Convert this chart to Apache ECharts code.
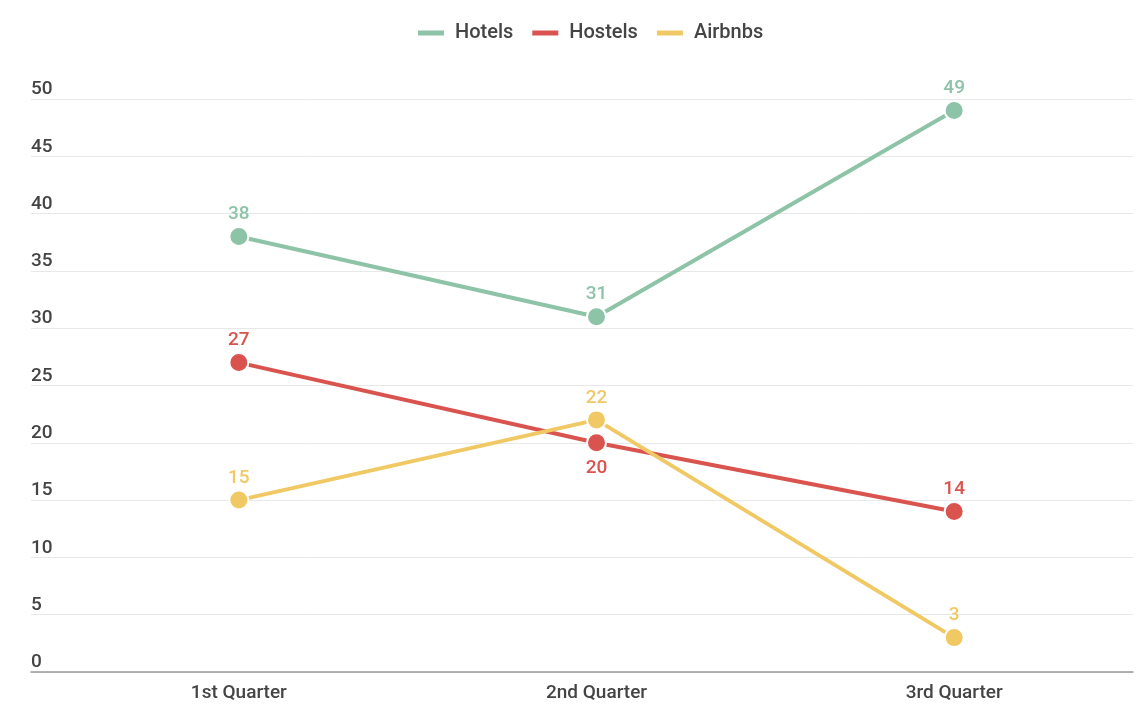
<!DOCTYPE html>
<html><head><meta charset="utf-8">
<script src="https://cdn.jsdelivr.net/npm/echarts@6/dist/echarts.min.js"></script>
<style>html,body{margin:0;padding:0;background:#fff}#c{width:1145px;height:715px}</style>
</head><body><div id="c"></div>
<script>
const categories = ['1st Quarter', '2nd Quarter', '3rd Quarter'];
const hotels = [38, 31, 49];
const hostels = [27, 20, 14];
const airbnbs = [15, 22, 3];
const yTicks = { min: 0, max: 50, interval: 5 };

const colors = { Hotels: '#8dc3a7', Hostels: '#d9534f', Airbnbs: '#f0c965' };
const chart = echarts.init(document.getElementById('c'), null, { renderer: 'canvas' });
const font = 'Roboto';
function mk(name, data) {
  return {
    name, type: 'line', data, xAxisIndex: 1, yAxisIndex: 1,
    symbol: 'circle', symbolSize: 19,
    lineStyle: { width: 4, color: colors[name] },
    itemStyle: { color: colors[name], borderColor: '#fff', borderWidth: 2 },
    label: {
      show: true, color: colors[name], fontFamily: font, fontSize: 19, fontWeight: 500,
      position: 'top', distance: 2,
      formatter: p => p.value
    },
    emphasis: { disabled: true }, animation: false, z: 3
  };
}
chart.setOption({
  animation: false,
  color: [colors.Hotels, colors.Hostels, colors.Airbnbs],
  textStyle: { fontFamily: font },
  legend: {
    top: 18, left: 413, itemWidth: 26, itemHeight: 5, itemGap: 19,
    icon: 'rect',
    itemStyle: { borderWidth: 0 },
    textStyle: { fontFamily: font, fontSize: 20, fontWeight: 500, color: '#444', padding: [0, 0, 0, 6] },
    data: ['Hotels', 'Hostels', 'Airbnbs']
  },
  grid: [
    { left: 31, right: 12, top: 99, bottom: 43 },
    { left: 60, right: 12, top: 99, bottom: 43 }
  ],
  xAxis: [
    { type: 'value', gridIndex: 0, min: 0, max: 1, axisLine: { show: true, onZero: false, lineStyle: { color: '#999', width: 1.5 } },
      axisTick: { show: false }, axisLabel: { show: false }, splitLine: { show: false } },
    { type: 'category', gridIndex: 1, data: categories, boundaryGap: true,
      axisLine: { show: false }, axisTick: { show: false },
      axisLabel: { fontFamily: font, fontSize: 19, fontWeight: 500, color: '#444', margin: 12 } }
  ],
  yAxis: [
    { type: 'value', gridIndex: 0, min: yTicks.min, max: yTicks.max, interval: yTicks.interval,
      axisLine: { show: false }, axisTick: { show: false },
      splitLine: { lineStyle: { color: '#e8e8e8', width: 1 } },
      axisLabel: { fontFamily: font, fontSize: 19, fontWeight: 500, color: '#444', align: 'left', margin: 0, inside: true,
        verticalAlign: 'bottom', padding: [0, 0, 0, 0] } },
    { type: 'value', gridIndex: 1, min: yTicks.min, max: yTicks.max, interval: yTicks.interval, show: false }
  ],
  series: [
    mk('Hotels', hotels),
    mk('Hostels', hostels.map((v, i) => ({ value: v, label: i === 1 ? { position: 'bottom', distance: 5 } : { position: 'top' } }))),
    mk('Airbnbs', airbnbs)
  ]
});
</script></body></html>
